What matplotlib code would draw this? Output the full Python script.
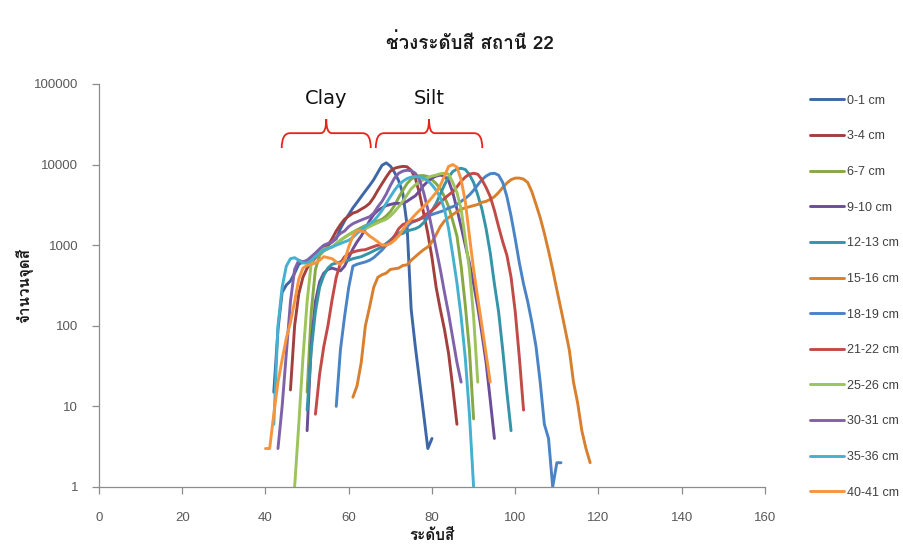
import numpy as np
import matplotlib
matplotlib.use("Agg")
import matplotlib.pyplot as plt
from matplotlib import font_manager
from matplotlib.path import Path
from matplotlib.patches import PathPatch
from matplotlib.transforms import blended_transform_factory

# ---------------------------------------------------------------- data
title = "ช่วงระดับสี สถานี 22"
x_label = "ระดับสี"
y_label = "จำนวนจุดสี"

labels = ["0-1 cm", "3-4 cm", "6-7 cm", "9-10 cm", "12-13 cm", "15-16 cm",
          "18-19 cm", "21-22 cm", "25-26 cm", "30-31 cm", "35-36 cm", "40-41 cm"]
colors = ["#3D67A6", "#A3403E", "#86A845", "#6C4D97", "#3594A8", "#D8802E",
          "#4A84C6", "#C24B48", "#9CC45A", "#8062AA", "#45B0CF", "#F7953F"]

# first colour level of every series (one value per level from there on)
start_00_01 = 42
counts_00_01 = [15, 90, 260, 320, 360, 450, 580, 620, 640, 680, 760, 850, 950, 1000,
                1100, 1200, 1600, 2000, 2400, 2900, 3400, 4000, 4700, 5500, 6500,
                8000, 9800, 10500, 9600, 8000, 6300, 4400, 1800, 160, 55, 21, 8, 3, 4]

start_03_04 = 46
counts_03_04 = [16, 100, 250, 400, 520, 600, 700, 800, 900, 1000, 1200, 1500, 1800,
                2100, 2300, 2500, 2600, 2800, 3000, 3300, 3900, 4800, 5800, 7000,
                8300, 9000, 9300, 9500, 9400, 8500, 6800, 4400, 2500, 1400, 700,
                300, 160, 90, 45, 17, 6]

start_06_07 = 50
counts_06_07 = [15, 150, 500, 750, 850, 900, 950, 1050, 1150, 1250, 1350, 1450, 1550,
                1650, 1750, 1800, 1900, 2000, 2100, 2300, 2600, 3100, 3900, 4800,
                5800, 6600, 7100, 7300, 7300, 7100, 6500, 5800, 5000, 4000, 3000,
                2000, 1300, 550, 180, 50, 7]

start_09_10 = 50
counts_09_10 = [5, 60, 200, 350, 450, 500, 520, 500, 480, 550, 700, 900, 1100, 1300,
                1600, 2000, 2400, 2700, 2900, 3100, 3200, 3300, 3300, 3300, 3500,
                3800, 4100, 4700, 5500, 6200, 6800, 7200, 7400, 7200, 6300, 4500,
                2800, 1700, 1000, 600, 330, 170, 80, 35, 12, 4]

start_12_13 = 50
counts_12_13 = [9, 50, 150, 300, 420, 520, 580, 600, 620, 640, 650, 680, 700, 720,
                760, 800, 850, 900, 950, 1050, 1150, 1250, 1350, 1400, 1500, 1550,
                1600, 1700, 1900, 2200, 2700, 3300, 4300, 5600, 7000, 8200, 8800,
                9000, 8700, 7500, 6000, 4200, 2800, 1600, 800, 330, 150, 50, 15, 5]

start_15_16 = 61
counts_15_16 = [13, 18, 35, 100, 170, 300, 400, 430, 450, 500, 510, 520, 560, 570,
                650, 720, 800, 880, 950, 1100, 1350, 1700, 2000, 2200, 2400, 2600,
                2800, 2900, 3000, 3100, 3200, 3400, 3500, 3700, 4000, 4500, 5200,
                5900, 6500, 6800, 6800, 6600, 6000, 4600, 3200, 2200, 1400, 850,
                500, 280, 160, 90, 50, 20, 11, 5, 3, 2]

start_18_19 = 57
counts_18_19 = [10, 50, 130, 300, 550, 580, 600, 620, 650, 700, 780, 870, 1000, 1150,
                1300, 1400, 1500, 1700, 1900, 2000, 2100, 2200, 2300, 2400, 2500,
                2600, 2700, 2900, 3000, 3200, 3500, 3800, 4200, 4800, 5600, 6500,
                7200, 7700, 7800, 7400, 6000, 4000, 2300, 1200, 600, 330, 200, 110,
                55, 20, 6, 4, 1, 2, 2]

start_21_22 = 52
counts_21_22 = [8, 25, 55, 100, 210, 400, 600, 720, 780, 820, 850, 870, 880, 920, 960,
                1000, 1000, 1000, 1100, 1300, 1600, 1800, 1900, 2000, 2000, 2100,
                2300, 2500, 2700, 3000, 3400, 3800, 4200, 4600, 5300, 6200, 7000,
                7600, 7800, 7600, 6500, 5200, 4000, 2700, 1700, 1100, 750, 400, 150,
                40, 9]

start_25_26 = 47
counts_25_26 = [1, 6, 40, 200, 600, 780, 850, 900, 930, 950, 1050, 1150, 1250, 1350,
                1450, 1500, 1550, 1600, 1700, 1800, 1900, 2000, 2100, 2300, 2600,
                3000, 3500, 4200, 5000, 5600, 6100, 6500, 6900, 7200, 7400, 7700,
                7800, 7600, 6000, 4500, 2800, 1200, 500, 130, 20]

start_30_31 = 43
counts_30_31 = [3, 10, 45, 200, 500, 650, 620, 650, 720, 800, 900, 1000, 1050, 1100,
                1250, 1400, 1500, 1700, 1850, 1950, 2050, 2150, 2250, 2500, 3000,
                3500, 4300, 5500, 6800, 7800, 8300, 8500, 8400, 7800, 6500, 4500,
                2800, 1600, 900, 500, 260, 140, 70, 35, 20]

start_35_36 = 42
counts_35_36 = [6, 100, 300, 550, 680, 700, 650, 600, 600, 650, 720, 800, 870, 920,
                950, 1000, 1050, 1100, 1150, 1250, 1400, 1550, 1700, 1850, 2000,
                2300, 2700, 3300, 4000, 4800, 5600, 6200, 6700, 7000, 7100, 7000,
                6800, 6300, 5600, 4800, 3900, 2800, 1600, 750, 340, 130, 40, 8, 1]

start_40_41 = 40
counts_40_41 = [3, 3, 8, 20, 38, 70, 110, 200, 380, 520, 560, 580, 600, 650, 720, 700,
                680, 620, 580, 650, 950, 1300, 1500, 1500, 1450, 1300, 1200, 1100,
                1000, 1000, 1050, 1150, 1300, 1550, 1850, 2100, 2400, 2700, 3000,
                3400, 3900, 4500, 5500, 7200, 9500, 10000, 9300, 6500, 3500, 1300,
                500, 220, 100, 45, 20]

starts = [start_00_01, start_03_04, start_06_07, start_09_10, start_12_13, start_15_16,
          start_18_19, start_21_22, start_25_26, start_30_31, start_35_36, start_40_41]
series = [counts_00_01, counts_03_04, counts_06_07, counts_09_10, counts_12_13,
          counts_15_16, counts_18_19, counts_21_22, counts_25_26, counts_30_31,
          counts_35_36, counts_40_41]

# grain-size ranges marked with braces above the curves
clay_range = (43.9, 65.3)
silt_range = (66.5, 92.1)

x_ticks = [0, 20, 40, 60, 80, 100, 120, 140, 160]
y_ticks = [1, 10, 100, 1000, 10000, 100000]


# ---------------------------------------------------------------- fonts
def thai_families():
    """Installed families that contain Thai glyphs."""
    found = []
    try:
        from fontTools.ttLib import TTFont
    except Exception:
        return found
    for fe in font_manager.fontManager.ttflist:
        if fe.name in found:
            continue
        try:
            kw = {"fontNumber": 0} if fe.fname.lower().endswith((".ttc", ".otc")) else {}
            tt = TTFont(fe.fname, lazy=True, **kw)
            cmap = tt.getBestCmap()
            if cmap and all(ord(c) in cmap for c in "ช่วงระดับสีจำนวนจุด"):
                found.append(fe.name)
        except Exception:
            pass
    return found


thai = thai_families()
thai_family = thai + ["DejaVu Sans"]
plain_family = ["Liberation Sans", "DejaVu Sans"]
plt.rcParams["font.family"] = plain_family

# ---------------------------------------------------------------- figure
fig = plt.figure(figsize=(9.04, 5.44), dpi=100)
ax = fig.add_axes([0.1095, 0.1048, 0.7367, 0.7408])

for start, vals, lab, col in zip(starts, series, labels, colors):
    xs = np.arange(start, start + len(vals))
    ax.plot(xs, vals, color=col, lw=2.1, label=lab, solid_capstyle="round",
            solid_joinstyle="round")

ax.set_yscale("log")
ax.set_xlim(0, 160)
ax.set_ylim(1, 100000)
ax.set_xticks(x_ticks)
ax.set_xticklabels([str(v) for v in x_ticks])
ax.set_yticks(y_ticks)
ax.set_yticklabels([str(v) for v in y_ticks])
ax.yaxis.set_minor_locator(matplotlib.ticker.NullLocator())

for side in ("top", "right"):
    ax.spines[side].set_visible(False)
for side in ("left", "bottom"):
    ax.spines[side].set_color("#8C8C8C")
    ax.spines[side].set_linewidth(0.9)
ax.tick_params(axis="both", colors="#8C8C8C", labelcolor="#595959", labelsize=9.5,
               length=5, width=0.9, direction="out")
ax.tick_params(axis="y", pad=10)
ax.tick_params(axis="x", pad=13)

ax.set_xlabel(x_label, family=thai_family, fontsize=11, fontweight="bold",
              color="#1A1A1A")
ax.xaxis.label.set_va("center")
ax.xaxis.set_label_coords(0.5, -0.122)
ax.set_ylabel(y_label, family=thai_family, fontsize=11, fontweight="bold",
              color="#1A1A1A")
ax.yaxis.label.set_va("center")
ax.yaxis.set_label_coords(-0.113, 0.5)
fig.text(0.52, 0.921, title, family=thai_family, fontsize=13.5, fontweight="bold",
         color="#1A1A1A", ha="center", va="center")

# braces for the clay and silt ranges
btrans = blended_transform_factory(ax.transData, ax.transAxes)


def brace(x0, x1, y_end=0.841, y_line=0.878, y_tip=0.913, r=2.0, rm=1.3):
    xm = (x0 + x1) / 2
    verts = [(x0, y_end), (x0, y_line), (x0 + r, y_line),
             (xm - rm, y_line), (xm, y_line), (xm, y_tip),
             (xm, y_line), (xm + rm, y_line),
             (x1 - r, y_line), (x1, y_line), (x1, y_end)]
    codes = [Path.MOVETO, Path.CURVE3, Path.CURVE3,
             Path.LINETO, Path.CURVE3, Path.CURVE3,
             Path.CURVE3, Path.CURVE3,
             Path.LINETO, Path.CURVE3, Path.CURVE3]
    ax.add_patch(PathPatch(Path(verts, codes), fill=False, edgecolor="#E8231C",
                           lw=1.3, transform=btrans, clip_on=False))
    return xm


clay_mid = brace(*clay_range)
silt_mid = brace(*silt_range)
ax.text(clay_mid, 0.965, "Clay", transform=btrans, ha="center", va="center",
        fontsize=14, color="#111111", family=["DejaVu Sans"])
ax.text(silt_mid, 0.963, "Silt", transform=btrans, ha="center", va="center",
        fontsize=14, color="#111111", family=["DejaVu Sans"])

leg = fig.legend(loc="upper left", bbox_to_anchor=(0.8905, 0.835), frameon=False,
                 fontsize=9, handlelength=2.75, handletextpad=0.2,
                 labelspacing=1.89, borderaxespad=0)
for t in leg.get_texts():
    t.set_color("#404040")

fig.savefig("out.png", dpi=100)
